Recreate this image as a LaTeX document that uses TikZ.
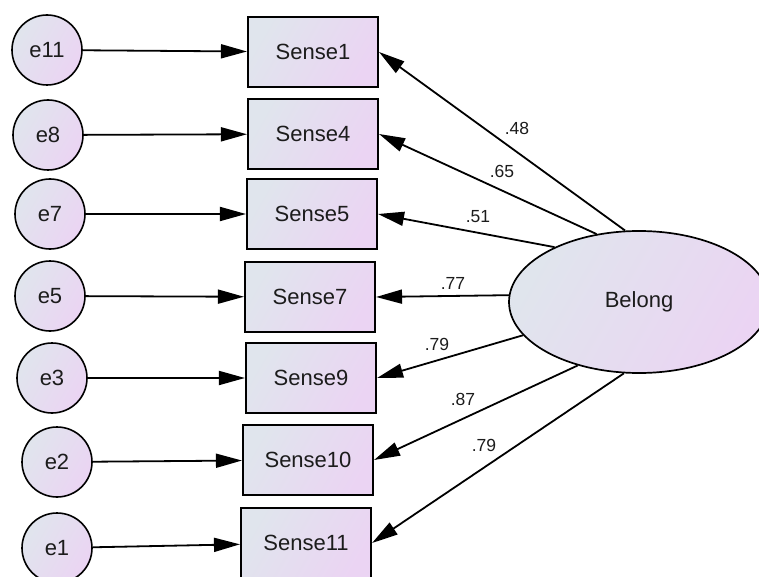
\documentclass[tikz,border=0pt]{standalone}
\usepackage{fontspec}
\setmainfont{Liberation Sans}
\usetikzlibrary{arrows.meta,shapes.geometric}
\definecolor{fillA}{RGB}{224,229,237}
\definecolor{fillB}{RGB}{235,212,243}
\definecolor{ink}{RGB}{28,28,28}

\begin{document}
\begin{tikzpicture}[x=1pt,y=-1pt,
  shadedfill/.style={left color=fillA, right color=fillB, shading angle=60},
  errnode/.style={circle, draw=black, line width=1.6pt, shadedfill,
    minimum size=70pt, inner sep=0pt, text=ink, font=\fontsize{22}{26}\selectfont},
  obsnode/.style={rectangle, draw=black, line width=2.1pt, shadedfill,
    minimum width=130pt, minimum height=70pt, inner sep=0pt, text=ink,
    font=\fontsize{22}{26}\selectfont},
  latnode/.style={ellipse, draw=black, line width=1.7pt, shadedfill,
    minimum width=260pt, minimum height=142pt, inner sep=0pt, text=ink,
    font=\fontsize{22}{26}\selectfont},
  pathline/.style={-{Triangle[length=26pt,width=14pt]}, line width=1.8pt, black},
  coef/.style={inner sep=0pt, text=ink, font=\fontsize{17.5}{20}\selectfont}
]
\path[use as bounding box] (0,0) rectangle (759,577);
\clip (0,0) rectangle (759,577);

% error terms
\node[errnode] (e11) at (47,50)  {e11};
\node[errnode] (e8)  at (48,135) {e8};
\node[errnode] (e7)  at (50,214) {e7};
\node[errnode] (e5)  at (50,296) {e5};
\node[errnode] (e3)  at (52,378) {e3};
\node[errnode] (e2)  at (57,462) {e2};
\node[errnode] (e1)  at (57,548) {e1};

% observed indicators
\node[obsnode] (s1)  at (313,52)  {Sense1};
\node[obsnode] (s4)  at (313,134) {Sense4};
\node[obsnode] (s5)  at (312,214) {Sense5};
\node[obsnode] (s7)  at (310,297) {Sense7};
\node[obsnode] (s9)  at (311,378) {Sense9};
\node[obsnode] (s10) at (308,460) {Sense10};
\node[obsnode] (s11) at (306,543) {Sense11};

% latent factor
\node[latnode] (bel) at (639,302) {Belong};

% error paths
\draw[pathline] (e11) -- (s1);
\draw[pathline] (e8)  -- (s4);
\draw[pathline] (e7)  -- (s5);
\draw[pathline] (e5)  -- (s7);
\draw[pathline] (e3)  -- (s9);
\draw[pathline] (e2)  -- (s10);
\draw[pathline] (e1)  -- (s11);

% factor loadings
\draw[pathline] (bel.101.3) -- (s1.east);
\draw[pathline] (bel.122.1) -- (s4.east);
\draw[pathline] (bel.147.9) -- (s5.east);
\draw[pathline] (bel.177.8) -- (s7.east);
\draw[pathline] (bel.196.8) -- (s9.east);
\draw[pathline] (bel.226.4) -- (s10.east);
\draw[pathline] (bel.258.8) -- (s11.east);

% loading values
\node[coef] (l1)  at (517,128) {.48};
\node[coef] (l4)  at (502,171) {.65};
\node[coef] (l5)  at (478,217) {.51};
\node[coef] (l7)  at (453,283) {.77};
\node[coef] (l9)  at (437,344) {.79};
\node[coef] (l10) at (463,399) {.87};
\node[coef] (l11) at (484,445) {.79};
\end{tikzpicture}
\end{document}
